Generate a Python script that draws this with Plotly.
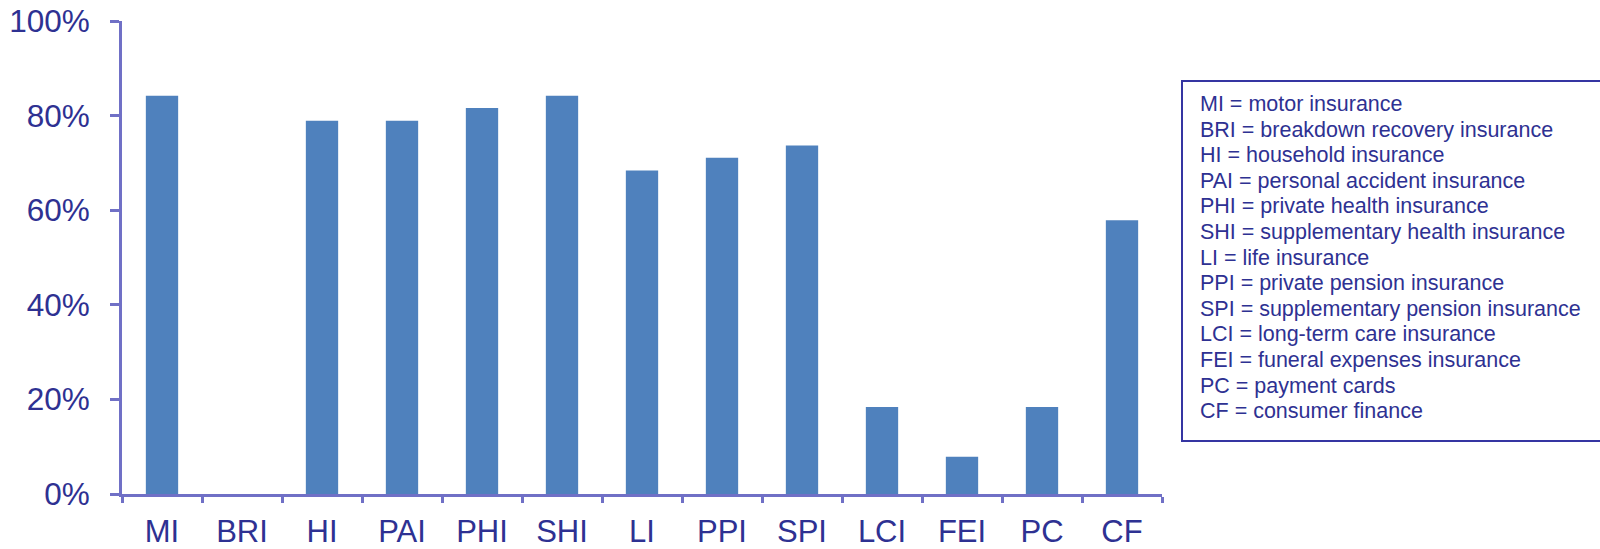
import plotly.graph_objects as go

# Share of respondents per product
categories = ["MI", "BRI", "HI", "PAI", "PHI", "SHI", "LI", "PPI", "SPI", "LCI", "FEI", "PC", "CF"]
shares = [0.842, 0.0, 0.789, 0.789, 0.816, 0.842, 0.684, 0.711, 0.737, 0.184, 0.079, 0.184, 0.579]
full_names = [
    "motor insurance",
    "breakdown recovery insurance",
    "household insurance",
    "personal accident insurance",
    "private health insurance",
    "supplementary health insurance",
    "life insurance",
    "private pension insurance",
    "supplementary pension insurance",
    "long-term care insurance",
    "funeral expenses insurance",
    "payment cards",
    "consumer finance",
]
y_ticks = [0, 0.2, 0.4, 0.6, 0.8, 1.0]

TEXT = "#2e3192"
AXIS = "#7070c6"
BAR = "#4f81bd"
FONT = "Liberation Sans, Arial, sans-serif"

W, H = 1600, 549
L, R, T, B = 122, 438, 21, 55

fig = go.Figure(
    go.Bar(x=categories, y=shares, marker=dict(color=BAR, line=dict(width=0)))
)

fig.update_layout(
    width=W,
    height=H,
    margin=dict(l=L, r=R, t=T, b=B, autoexpand=False),
    paper_bgcolor="white",
    plot_bgcolor="white",
    bargap=0.596,
    showlegend=False,
    font=dict(family=FONT, color=TEXT, size=31),
)

fig.update_xaxes(
    automargin=False,
    showline=True,
    linecolor=AXIS,
    linewidth=2.8,
    ticks="outside",
    tickson="boundaries",
    ticklen=6,
    tickwidth=2.5,
    tickcolor=AXIS,
    showgrid=False,
    tickfont=dict(size=31, color=TEXT, family=FONT),
    ticklabelstandoff=8,
)
fig.update_yaxes(
    automargin=False,
    range=[0, 1],
    tickvals=y_ticks,
    tickformat=".0%",
    showline=True,
    linecolor=AXIS,
    linewidth=2.8,
    ticks="outside",
    ticklen=9,
    tickwidth=2.5,
    tickcolor=AXIS,
    showgrid=False,
    zeroline=False,
    tickfont=dict(size=31.5, color=TEXT, family=FONT),
    ticklabelstandoff=14,
)

# Abbreviation key box
plot_h = H - T - B
plot_w = W - L - R


def px_x(px):
    return (px - L) / plot_w


def px_y(py):
    return (H - B - py) / plot_h


fig.add_shape(
    type="rect",
    xref="paper",
    yref="paper",
    x0=px_x(1182),
    x1=px_x(1640),
    y0=px_y(441),
    y1=px_y(81),
    line=dict(color="#3535a2", width=2),
    fillcolor="rgba(0,0,0,0)",
)

line_step = 25.6
for i, (abbr, name) in enumerate(zip(categories, full_names)):
    fig.add_annotation(
        xref="paper",
        yref="paper",
        x=px_x(1200),
        y=px_y(104 + i * line_step),
        text=f"{abbr} = {name}",
        showarrow=False,
        xanchor="left",
        yanchor="middle",
        xshift=-1,
        borderpad=0,
        font=dict(family=FONT, size=21.5, color=TEXT),
    )

fig.write_html("out.html")
